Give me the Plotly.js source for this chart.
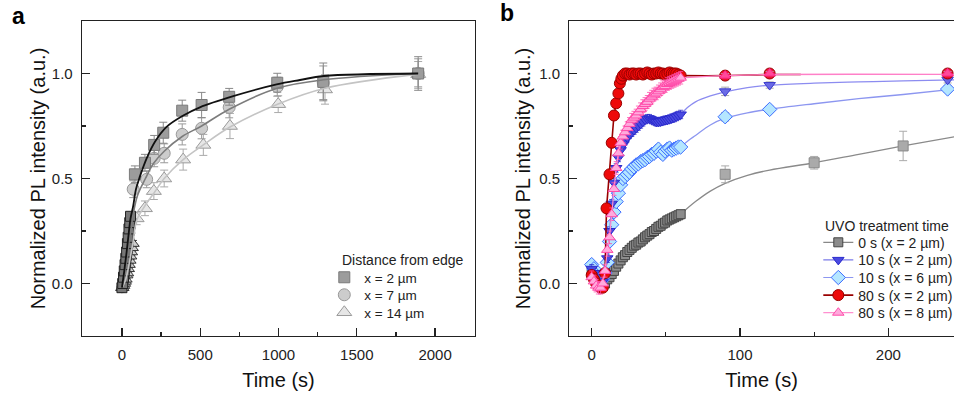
<!DOCTYPE html>
<html><head><meta charset="utf-8">
<script src="https://cdn.plot.ly/plotly-3.0.1.min.js"></script>
<style>html,body{margin:0;padding:0;background:#fff}#chart{width:954px;height:402px}</style>
</head><body><div id="chart"></div><script>
// ---------- Panel a data ----------
// early (dense) part of each series
const tA2e = [0,5,10,15,20,25,30,35,40,45,50,55];
const yA2e = [-0.02,0.0,0.03,0.06,0.09,0.12,0.15,0.19,0.22,0.26,0.29,0.32];
const tA7e = [0,5,10,15,20,25,30,35,40,45,50,55,60];
const yA7e = [-0.02,-0.01,0.01,0.03,0.06,0.09,0.12,0.15,0.18,0.21,0.24,0.27,0.3];
const tA14e = [0,5,10,15,20,25,30,35,40,45,50,55,60,65,70];
const yA14e = [-0.02,-0.02,-0.01,0.0,0.01,0.02,0.04,0.05,0.07,0.09,0.11,0.13,0.15,0.17,0.19];
// later part
const tA2 = [83,147,206,264,385,509,685,992,1286,1892];
const yA2 = [0.52,0.575,0.66,0.718,0.823,0.85,0.889,0.956,0.96,1.0];
const eA2 = [0.04,0.04,0.045,0.05,0.05,0.06,0.04,0.045,0.09,0.08];
const tA7 = [72,158,206,270,385,509,685,992,1286,1892];
const yA7 = [0.449,0.496,0.596,0.62,0.71,0.739,0.839,0.937,0.956,1.0];
const eA7 = [0.04,0.04,0.04,0.045,0.05,0.05,0.05,0.045,0.08,0.07];
const tA14 = [94,147,204,270,391,520,690,998,1297,1892];
const yA14 = [0.31,0.358,0.44,0.5,0.59,0.66,0.75,0.854,0.924,0.997];
const eA14 = [0.03,0.035,0.04,0.04,0.05,0.05,0.06,0.04,0.07,0.06];

const fitA2x = [0,15,30,45,55,72,90,115,158,211,285,392,498,711,988,1137,1290,1892];
const fitA2y = [-0.02,0.06,0.15,0.25,0.31,0.37,0.45,0.51,0.596,0.675,0.746,0.80,0.839,0.892,0.948,0.969,0.988,1.0];
const fitA7x = [0,20,40,60,72,100,150,200,270,385,509,685,992,1286,1892];
const fitA7y = [-0.02,0.06,0.17,0.27,0.33,0.42,0.5,0.57,0.63,0.7,0.75,0.83,0.93,0.97,1.0];
const fitA14x = [0,20,40,60,72,94,147,204,270,391,520,690,998,1297,1892];
const fitA14y = [-0.02,0.01,0.07,0.15,0.2,0.3,0.37,0.43,0.5,0.59,0.66,0.745,0.855,0.93,0.997];

// ---------- Panel b data ----------
const tB = [0,1.5,3,4.5,6,7.5,9,10.5,12,13.5,15,16.5,18,19.5,21,22.5,24,25.5,27,28.5,30,31.5,33,34.5,36,37.5,39,40.5,42,43.5,45,46.5,48,49.5,51,52.5,54,55.5,57,58.5,60];
const tBgraySparse = [90,150,210];
const tBsparse = [90,120,240];

const yB0 = [0.06,0.04,0.02,0.01,0.0,-0.01,0.0,0.02,0.03,0.045,0.06,0.08,0.095,0.11,0.125,0.135,0.15,0.16,0.17,0.18,0.185,0.195,0.2,0.21,0.22,0.228,0.235,0.245,0.25,0.26,0.27,0.275,0.285,0.29,0.3,0.305,0.31,0.315,0.32,0.325,0.33];
const yB0s = [0.52,0.575,0.655];
const eB0s = [0.04,0.03,0.07];

const yB10a = [0.07,0.05,0.03,0.01,0.0,0.01,0.05,0.12,0.25,0.38,0.48,0.55,0.6,0.635,0.66,0.68,0.695,0.71,0.72,0.73,0.74,0.75,0.76,0.77,0.78,0.785,0.785,0.78,0.775,0.77,0.77,0.772,0.775,0.778,0.78,0.783,0.787,0.79,0.795,0.8,0.805];
const yB10as = [0.915,0.945,0.97];

const yB10b = [0.09,0.07,0.04,0.02,0.01,0.02,0.05,0.1,0.2,0.28,0.34,0.39,0.43,0.47,0.5,0.51,0.52,0.53,0.545,0.555,0.565,0.57,0.58,0.585,0.59,0.6,0.605,0.615,0.62,0.63,0.64,0.625,0.615,0.63,0.64,0.645,0.635,0.64,0.645,0.65,0.65];
const yB10bs = [0.794,0.829,0.926];

const tBred = [0,1.5,3,4.5,6,7.5,9,10,12,13.5,15,16.5,18,19,20,21,22.5,24,25.5,27,28.5,30,31.5,33,34.5,36,37.5,39,40.5,42,43.5,45,46.5,48,49.5,51,52.5,54,55.5,57,58.5,60];
const yB80a = [0.04,0.02,0.0,-0.01,-0.02,-0.02,0.05,0.358,0.52,0.67,0.8,0.858,0.905,0.953,0.975,0.99,1.0,1.0,0.995,1.0,1.0,0.995,1.0,1.0,0.995,1.0,1.005,1.0,0.995,1.0,1.0,1.005,1.0,1.0,0.995,1.0,1.005,1.0,1.0,1.0,0.995,0.99];
const yB80as = [0.99,1.0,1.0];

const yB80b = [0.03,0.01,-0.01,-0.02,-0.02,0.0,0.06,0.16,0.22,0.33,0.45,0.55,0.62,0.67,0.7,0.72,0.74,0.76,0.78,0.79,0.8,0.815,0.83,0.845,0.855,0.865,0.88,0.89,0.9,0.905,0.915,0.925,0.935,0.94,0.95,0.955,0.96,0.965,0.97,0.975,0.98];
const yB80bs = [0.99,1.0,1.0];

const fitB0x = [60,70,80,90,105,120,150,180,210,245];
const fitB0y = [0.33,0.39,0.44,0.477,0.515,0.54,0.575,0.615,0.655,0.699];
const fitB10ax = [60,65,70,80,90,105,120,150,180,210,245];
const fitB10ay = [0.805,0.84,0.865,0.893,0.913,0.933,0.944,0.954,0.96,0.965,0.97];
const fitB10bx = [60,65,70,80,90,105,120,150,180,210,245];
const fitB10by = [0.65,0.68,0.705,0.755,0.787,0.813,0.83,0.856,0.88,0.9,0.926];
const fitB80ax = [60,90,120,141];
const fitB80ay = [0.99,0.99,0.995,0.995];
const fitB80bx = [60,90,120,240,245];
const fitB80by = [0.98,0.99,0.995,0.996,0.996];

const namesA = ['x = 2 \u00b5m','x = 7 \u00b5m','x = 14 \u00b5m'];
const namesB = ['0 s (x = 2 \u00b5m)','10 s (x = 2 \u00b5m)','10 s (x = 6 \u00b5m)','80 s (x = 2 \u00b5m)','80 s (x = 8 \u00b5m)'];
const legendTitleA = 'Distance from edge';
const legendTitleB = 'UVO treatment time';
const yTitle = 'Normalized PL intensity (a.u.)';
const xTitle = 'Time (s)';

function constErr(arr, v){ return arr.map(()=>v); }

const traces = [];
function aMarkers(x,y,e,name,sym,fill,edge,size,errc,leg){
  return {type:'scatter',mode:'markers',x:x,y:y,name:name,xaxis:'x',yaxis:'y',legend:leg,showlegend:!!name,
    marker:{symbol:sym,size:size,color:fill,line:{color:edge,width:1}},
    error_y:{type:'data',array:e,visible:true,color:errc,thickness:1,width:4},cliponaxis:false};
}
traces.push(aMarkers(tA14,yA14,eA14,namesA[2],'triangle-up','#e6e6e6','#9a9a9a',13,'#aaaaaa','legend4'));
traces.push(aMarkers(tA7,yA7,eA7,namesA[1],'circle','#cccccc','#999999',12,'#999999','legend3'));
traces.push(aMarkers(tA2,yA2,eA2,namesA[0],'square','#9c9c9c','#7a7a7a',11,'#888888','legend'));
traces.push(aMarkers(tA14e,yA14e,constErr(tA14e,0.015),null,'triangle-up','#d0d0d0','#333333',11,'#333333','legend'));
traces.push(aMarkers(tA7e,yA7e,constErr(tA7e,0.015),null,'circle','#aaaaaa','#333333',10,'#333333','legend'));
traces.push(aMarkers(tA2e,yA2e,constErr(tA2e,0.015),null,'square','#777777','#222222',10,'#222222','legend'));
function aFit(x,y,c,w){
  return {type:'scatter',mode:'lines',x:x,y:y,xaxis:'x',yaxis:'y',showlegend:false,hoverinfo:'skip',
    line:{color:c,width:w,shape:'spline',smoothing:1}};
}
traces.push(aFit(fitA14x,fitA14y,'#c4c4c4',1.6));
traces.push(aFit(fitA7x,fitA7y,'#7c7c7c',1.6));
traces.push(aFit(fitA2x,fitA2y,'#111111',1.8));

function bSeries(x,y,e,name,sym,fill,edge,size,lc,lw,leg){
  return {type:'scatter',mode:'lines+markers',x:x,y:y,name:name,xaxis:'x2',yaxis:'y2',legend:leg,
    marker:{symbol:sym,size:size,color:fill,line:{color:edge,width:1}},
    line:{color:lc,width:lw},
    error_y:{type:'data',array:e,visible:true,color:edge,thickness:0.8,width:2.5},cliponaxis:false};
}
function bSparse(x,y,e,sym,fill,edge,size){
  return {type:'scatter',mode:'markers',x:x,y:y,xaxis:'x2',yaxis:'y2',showlegend:false,
    marker:{symbol:sym,size:size,color:fill,line:{color:edge,width:1}},
    error_y:{type:'data',array:e,visible:true,color:'#aaaaaa',thickness:1,width:4},cliponaxis:false};
}
function bFit(x,y,c,w){
  return {type:'scatter',mode:'lines',x:x,y:y,xaxis:'x2',yaxis:'y2',showlegend:false,hoverinfo:'skip',
    line:{color:c,width:w,shape:'spline',smoothing:1}};
}
traces.push(bFit(fitB0x,fitB0y,'#8a8a8a',1.3));
traces.push(bSeries(tB,yB0,constErr(tB,0.015),namesB[0],'square','#8c8c8c','#444444',9,'#888888',1.2,'legend2'));
traces.push(bSparse(tBgraySparse,yB0s,eB0s,'square','#aaaaaa','#888888',10));
traces.push(bFit(fitB10bx,fitB10by,'#8c96f0',1.3));
traces.push(bSeries(tB,yB10b,constErr(tB,0.02),namesB[2],'diamond','#b4e6ff','#3d6cff',11,'#8c96f0',1.2,'legend6'));
traces.push(bSparse(tBsparse,yB10bs,[0.02,0.015,0.015],'diamond','#b4e6ff','#3d6cff',11));
traces.push(bFit(fitB10ax,fitB10ay,'#8c8cf0',1.3));
traces.push(bSeries(tB,yB10a,constErr(tB,0.02),namesB[1],'triangle-down','#4a4ae0','#2a2acc',10,'#7a7ae8',1.2,'legend5'));
traces.push(bSparse(tBsparse,yB10as,[0.02,0.015,0.015],'triangle-down','#6a6ae6','#3a3acc',10));
traces.push(bFit(fitB80ax,fitB80ay,'#990000',1.6));
traces.push(bSeries(tBred,yB80a,constErr(tBred,0.01),namesB[3],'circle','#ee0a0a','#990000',11,'#990000',1.6,'legend7'));
traces.push(bSparse(tBsparse,yB80as,[0.01,0.01,0.01],'circle','#ee1030','#990000',11));
traces.push(bFit(fitB80bx,fitB80by,'#ff80c8',1.4));
traces.push(bSeries(tB,yB80b,constErr(tB,0.03),namesB[4],'triangle-up','#ffaadd','#ff4aa8',10,'#ff90d0',1.2,'legend8'));
traces.push(bSparse(tBsparse,yB80bs,[0.01,0.01,0.01],'triangle-up','#ff4a9a','#ff2288',10));

const fontFam = 'Liberation Sans, Arial, Helvetica, sans-serif';
const axCommon = {ticks:'inside',ticklen:8,tickwidth:1.3,tickcolor:'#222',showline:true,linecolor:'#222',linewidth:1.3,
  showgrid:false,zeroline:false,tickfont:{size:15,color:'#222'},automargin:false,ticklabelstandoff:5};

const pyA = (p)=> (336-p)/315;  // pixel row -> paper y
function oneLegend(xpx, ypx, size){
  return {xref:'paper',yref:'paper',x:xpx/954,y:pyA(ypx),xanchor:'left',yanchor:'middle',bgcolor:'rgba(0,0,0,0)',
    font:{size:size,color:'#222'},itemwidth:30,tracegroupgap:0};
}

const layout = {
  width:954,height:402,margin:{l:0,r:0,t:21,b:66,autoexpand:false},paper_bgcolor:'#fff',plot_bgcolor:'#fff',
  font:{family:fontFam,color:'#111'},hovermode:false,
  xaxis:Object.assign({},axCommon,{domain:[82/954,475/954],range:[-255,2255],anchor:'y',tickmode:'linear',tick0:0,dtick:500,mirror:true,
    minor:{ticks:'inside',ticklen:4,tick0:0,dtick:250,tickcolor:'#222',tickwidth:1.2},
    title:{text:xTitle,font:{size:20,color:'#111'},standoff:10}}),
  yaxis:Object.assign({},axCommon,{domain:[0,1],range:[-0.25,1.25],anchor:'x',tickmode:'linear',tick0:0,dtick:0.5,tickformat:'.1f',mirror:true,
    minor:{ticks:'inside',ticklen:4,tick0:0,dtick:0.25,tickcolor:'#222',tickwidth:1.2},
    title:{text:yTitle,font:{size:20,color:'#111'},standoff:0}}),
  xaxis2:Object.assign({},axCommon,{domain:[569.3/954,1],range:[-15.1,244.3],anchor:'y2',tickmode:'linear',tick0:0,dtick:100,mirror:true,
    minor:{ticks:'inside',ticklen:4,tick0:0,dtick:50,tickcolor:'#222',tickwidth:1.2},
    title:{text:xTitle,font:{size:20,color:'#111'},standoff:10}}),
  yaxis2:Object.assign({},axCommon,{domain:[0,1],range:[-0.25,1.25],anchor:'x2',tickmode:'linear',tick0:0,dtick:0.5,tickformat:'.1f',mirror:false,
    minor:{ticks:'inside',ticklen:4,tick0:0,dtick:0.25,tickcolor:'#222',tickwidth:1.2},
    title:{text:yTitle,font:{size:20,color:'#111'},standoff:3}}),
  legend: oneLegend(324.3,277.5,13.5),
  legend3: oneLegend(324.3,295,13.5),
  legend4: oneLegend(324.3,312.5,13.5),
  legend2: oneLegend(818.3,242.7,14),
  legend5: oneLegend(818.3,260.3,14),
  legend6: oneLegend(818.3,277.9,14),
  legend7: oneLegend(818.3,295.5,14),
  legend8: oneLegend(818.3,313.1,14),
  annotations:[
    {text:'<b>a</b>',xref:'paper',yref:'paper',x:18/954,y:pyA(16),showarrow:false,font:{size:23,color:'#000'},xanchor:'center',yanchor:'middle'},
    {text:'<b>b</b>',xref:'paper',yref:'paper',x:507/954,y:pyA(13),showarrow:false,font:{size:23,color:'#000'},xanchor:'center',yanchor:'middle'},
    {text:legendTitleA,xref:'paper',yref:'paper',x:340/954,y:pyA(260),showarrow:false,font:{size:14,color:'#222'},xanchor:'left',yanchor:'middle'},
    {text:legendTitleB,xref:'paper',yref:'paper',x:823/954,y:pyA(225.5),showarrow:false,font:{size:14,color:'#222'},xanchor:'left',yanchor:'middle'}
  ]
};
Plotly.newPlot('chart',traces,layout,{displayModeBar:false,staticPlot:true});
</script></body></html>
